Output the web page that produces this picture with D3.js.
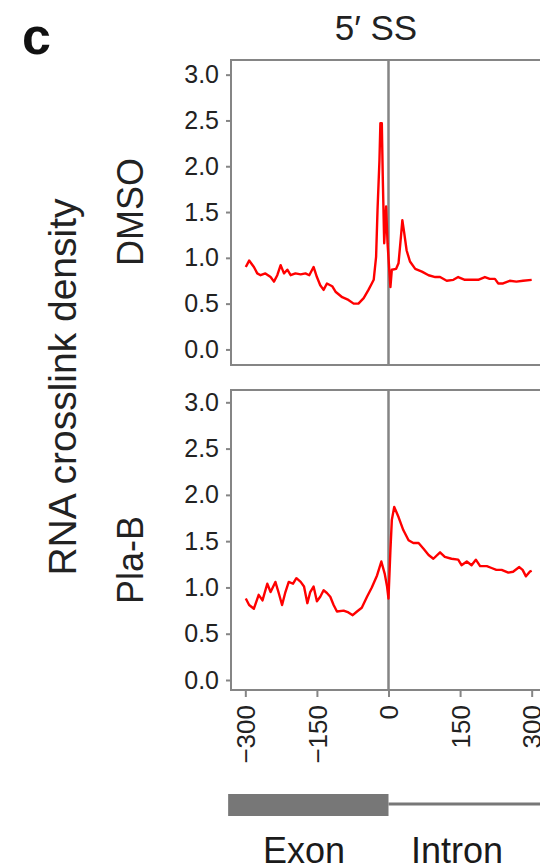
<!DOCTYPE html>
<html>
<head>
<meta charset="utf-8">
<script src="https://cdn.jsdelivr.net/npm/d3@7"></script>
<style>
body { margin: 0; background: #fff; }
text { font-family: "Liberation Sans", Arial, sans-serif; }
</style>
</head>
<body>
<div id="chart"></div>
<script>
// positions relative to the 5' splice site (nt) and crosslink density values
var dmsoPos = [-299,-292,-282,-275,-268,-258,-247,-240,-233,-226,-219,-212,-205,-195,-184,-174,-166,-157,-150,-143,
    -136,-129,-118,-111,-97,-84,-73,-63,-52,-42,-35,-31,-26,-23,-19,-17,-14,-12,-9,-5,
    -2,4,7,16,21,26,29,33,38,45,56,70,84,98,108,122,136,146,160,174,
    188,202,212,223,230,240,254,268,282,300]
var dmsoVal = [0.90,0.97,0.90,0.83,0.81,0.83,0.79,0.74,0.81,0.92,0.83,0.87,0.81,0.83,0.82,0.83,0.81,0.90,0.79,0.70,
    0.65,0.72,0.69,0.63,0.57,0.54,0.50,0.50,0.56,0.65,0.72,0.76,1.01,1.52,2.06,2.47,2.47,1.88,1.16,1.56,
    1.16,0.68,0.87,0.88,0.94,1.23,1.41,1.27,1.08,0.96,0.88,0.85,0.81,0.79,0.79,0.75,0.76,0.79,0.76,0.76,
    0.76,0.79,0.77,0.77,0.72,0.72,0.75,0.74,0.75,0.76]

var plaPos = [-299,-292,-282,-272,-264,-254,-247,-237,-230,-223,-216,-209,-200,-193,-184,-177,-170,-164,-157,-150,
    -143,-136,-129,-122,-115,-108,-94,-84,-75,-66,-56,-45,-35,-24,-15,-8,-3,0,4,7,
    12,21,31,42,52,63,73,84,94,108,118,132,146,153,164,174,183,192,206,216,
    226,237,251,261,274,281,288,296,300]
var plaVal = [0.88,0.81,0.77,0.92,0.86,1.04,0.95,1.06,0.94,0.81,0.95,1.06,1.04,1.10,1.06,1.01,0.83,0.95,1.01,0.85,
    0.90,0.97,0.94,0.90,0.81,0.74,0.75,0.73,0.70,0.74,0.78,0.90,1.00,1.13,1.28,1.15,1.01,0.88,1.40,1.73,
    1.87,1.76,1.62,1.51,1.48,1.48,1.42,1.35,1.31,1.38,1.33,1.31,1.30,1.24,1.28,1.24,1.30,1.23,1.23,1.21,
    1.19,1.19,1.16,1.17,1.22,1.19,1.12,1.17,1.18]

var yTicks = [0, 0.5, 1, 1.5, 2, 2.5, 3]
var xTicks = [-300, -150, 0, 150, 300]
var conditions = ["DMSO", "Pla-B"]

var frameColor = "#858585"
var textColor = "#222"

var svg = d3.select("#chart")
    .append("svg")
    .attr("width", 540)
    .attr("height", 867)

var x = d3.scaleLinear()
    .domain([-330, 330])
    .range([231, 546]);

var panels = [
    {name: conditions[0], pos: dmsoPos, val: dmsoVal, top: 60, bottom: 365, dom: [-0.17, 3.16], labelY: 212},
    {name: conditions[1], pos: plaPos, val: plaVal, top: 390, bottom: 690, dom: [-0.108, 3.133], labelY: 560}
]

panels.forEach(function(p){
    var y = d3.scaleLinear()
        .domain(p.dom)
        .range([p.bottom, p.top]);

    var yAxis = svg.append("g")
        .attr("transform", "translate(" + x.range()[0] + ",0)")
        .call(d3.axisLeft(y).tickValues(yTicks).tickSize(5).tickPadding(7).tickFormat(d3.format(".1f")));
    yAxis.select(".domain").remove();
    yAxis.selectAll(".tick line").attr("stroke", frameColor).attr("stroke-width", 2);
    yAxis.selectAll(".tick text")
        .style("font-size", "25px")
        .attr("fill", textColor);

    // panel frame
    svg.append("rect")
        .attr("x", x.range()[0])
        .attr("y", p.top)
        .attr("width", x.range()[1] - x.range()[0])
        .attr("height", p.bottom - p.top)
        .attr("fill", "none")
        .attr("stroke", frameColor)
        .attr("stroke-width", 2);

    // splice site
    svg.append("line")
        .attr("x1", x(0)).attr("x2", x(0))
        .attr("y1", p.top).attr("y2", p.bottom)
        .attr("stroke", frameColor)
        .attr("stroke-width", 2.5);

    var line = d3.line()
        .x(function(d, i){ return x(p.pos[i]); })
        .y(function(d){ return y(d); });

    svg.append("path")
        .datum(p.val)
        .attr("d", line)
        .attr("fill", "none")
        .attr("stroke", "#ff0000")
        .attr("stroke-width", 2.4)
        .attr("stroke-linejoin", "round");

    svg.append("text")
        .attr("transform", "translate(143," + p.labelY + ") rotate(-90)")
        .style("text-anchor", "middle")
        .style("font-size", "36px")
        .attr("fill", textColor)
        .text(p.name);
});

// x axis under the lower panel
var xAxis = svg.append("g")
    .attr("transform", "translate(0," + panels[1].bottom + ")")
    .call(d3.axisBottom(x).tickValues(xTicks).tickSize(7).tickFormat(d3.format("d")));
xAxis.select(".domain").remove();
xAxis.selectAll(".tick line").attr("stroke", frameColor).attr("stroke-width", 2);
xAxis.selectAll(".tick text")
    .attr("transform", "rotate(-90)")
    .attr("x", -15)
    .attr("y", 0)
    .attr("dy", "0.35em")
    .style("text-anchor", "end")
    .style("font-size", "26px")
    .attr("fill", textColor);

// exon / intron diagram
svg.append("rect")
    .attr("x", x(-336))
    .attr("y", 794)
    .attr("width", x(0) - x(-336))
    .attr("height", 22)
    .attr("fill", "#777");

svg.append("line")
    .attr("x1", x(0)).attr("x2", x(330))
    .attr("y1", 804).attr("y2", 804)
    .attr("stroke", "#777")
    .attr("stroke-width", 3);

svg.append("text")
    .attr("x", 263).attr("y", 863)
    .style("font-size", "36px")
    .attr("fill", "#1a1a1a")
    .text("Exon");

svg.append("text")
    .attr("x", 411).attr("y", 863)
    .style("font-size", "36px")
    .attr("fill", "#1a1a1a")
    .text("Intron");

// titles
svg.append("text")
    .attr("x", 22).attr("y", 54)
    .style("font-size", "52px")
    .style("font-weight", "bold")
    .attr("fill", "#111")
    .text("c");

svg.append("text")
    .attr("x", 376).attr("y", 40)
    .style("text-anchor", "middle")
    .style("font-size", "35px")
    .attr("fill", textColor)
    .text("5\u2032 SS");

svg.append("text")
    .attr("transform", "translate(76,387) rotate(-90)")
    .style("text-anchor", "middle")
    .style("font-size", "39px")
    .attr("fill", textColor)
    .text("RNA crosslink density");
</script>
</body>
</html>
